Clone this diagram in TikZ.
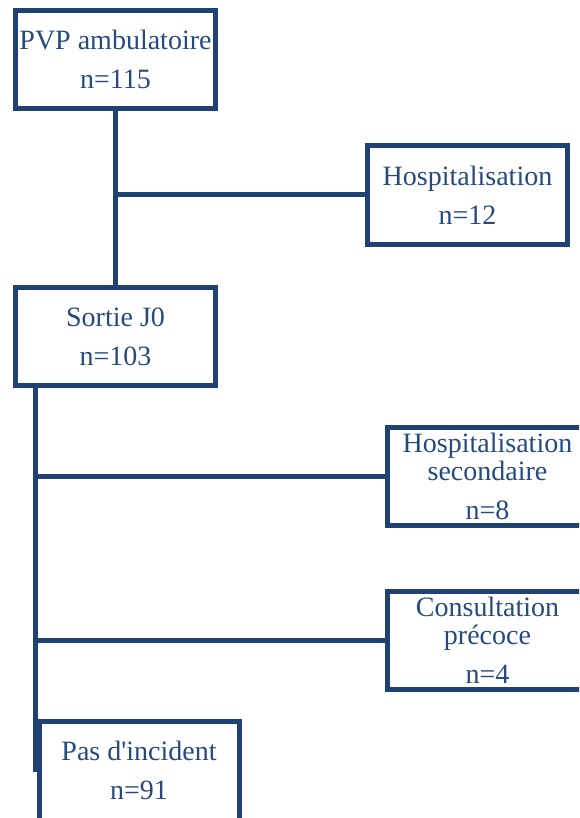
\documentclass[tikz,border=0pt]{standalone}
\usepackage{fontspec}
\setmainfont{Liberation Serif}
\usepackage{xcolor}
\usetikzlibrary{positioning}
\usetikzlibrary{calc}
\definecolor{flowblue}{RGB}{31,66,115}
\definecolor{flowtext}{RGB}{38,74,125}

\begin{document}
\begin{tikzpicture}[x=1pt, y=-1pt,
        box/.style={draw=flowblue, line width=5pt, rectangle, outer sep=0pt,
                    minimum width=200pt, minimum height=98pt, inner sep=0pt,
                    align=center, text=flowtext,
                    font=\fontsize{28}{28}\selectfont},
        link/.style={draw=flowblue, line width=5pt}]
        \path[use as bounding box, clip] (0,0) rectangle (579,818);
        \node[box] (pvp)   at (115.5,59.5)  {PVP ambulatoire\\[11pt]n=115};
        \node[box] (hosp)  at (467.5,195)   {Hospitalisation\\[11pt]n=12};
        \node[box] (sortie) at (115.5,336.5) {Sortie J0\\[11pt]n=103};
        \node[box] (hospsec) at (487.5,476.5) {Hospitalisation\\secondaire\\[11pt]n=8};
        \node[box] (consult) at (487.5,640)  {Consultation\\pr\'ecoce\\[11pt]n=4};
        \node[box, minimum height=110pt] (rien) at (139,776.5)
            {Pas d\textquotesingle incident\\[11pt]n=91\\[-16pt]\mbox{}};
        % branches
        \coordinate (j1) at (pvp.south |- hosp.west);
        \coordinate (s) at ([xshift=20pt]sortie.south west);
        \draw[link] (pvp.south) -- (sortie.north);
        \draw[link] (j1) -- (hosp.west);
        \draw[link] (s) -- ([yshift=4.5pt]s |- rien.west);
        \foreach \b in {hospsec,consult} {
           \draw[link] (s |- \b.west) -- (\b.west);
        }
\end{tikzpicture}
\end{document}
